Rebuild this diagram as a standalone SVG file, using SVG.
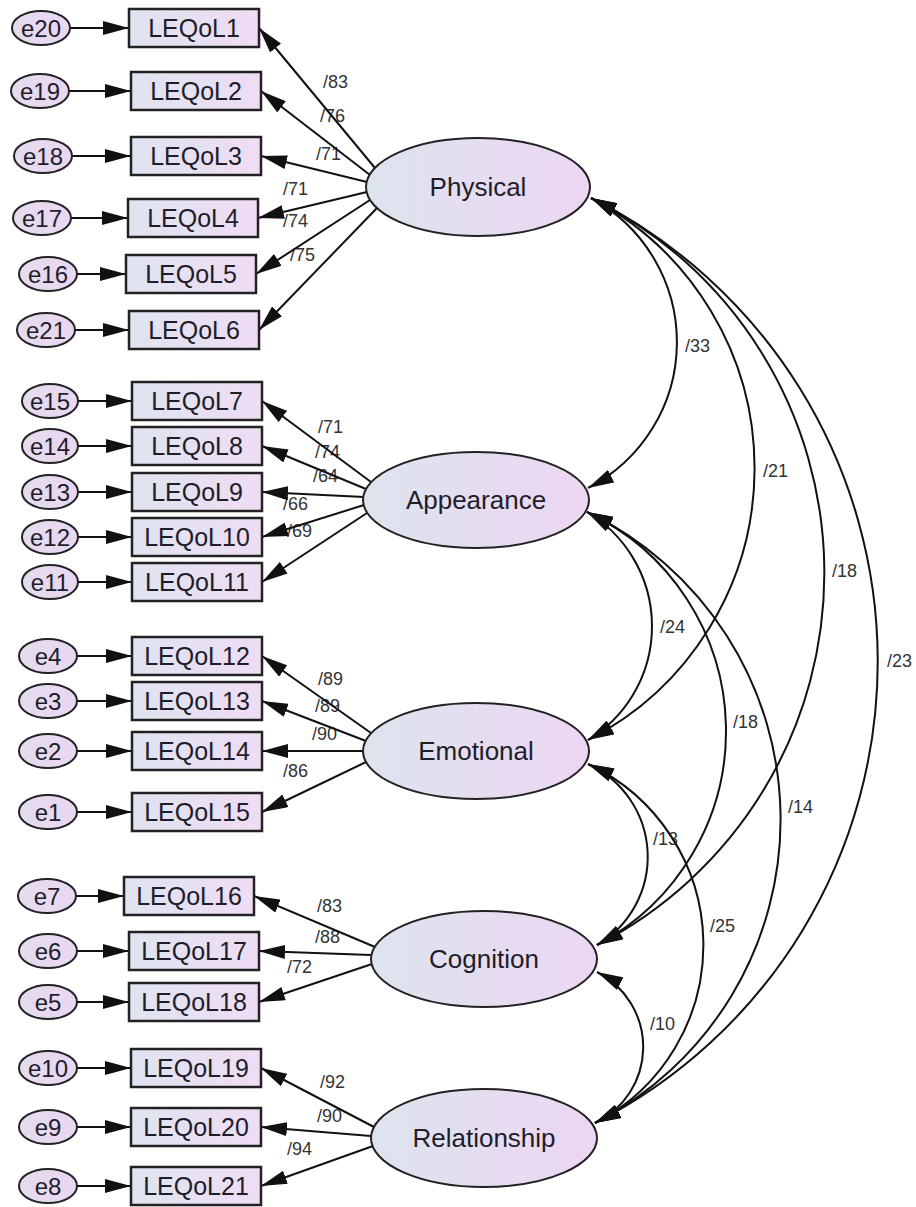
<svg xmlns="http://www.w3.org/2000/svg" width="916" height="1207" viewBox="0 0 916 1207">
<style>
.bx{stroke:#222;stroke-width:2.5;fill:url(#gBox)}
.lt{stroke:#222;stroke-width:2;fill:url(#gLat)}
.er{stroke:#222;stroke-width:2;fill:url(#gErr)}
.t{font-family:"Liberation Sans",Arial,sans-serif;fill:#1e1e2a;text-anchor:middle}
.tb{font-size:25px}
.tl{font-size:26px}
.te{font-size:24px}
.lb{font-family:"Liberation Sans",Arial,sans-serif;font-size:18px;fill:#333}
.ln{stroke:#111;stroke-width:2;fill:none;marker-end:url(#ah)}
.cv{stroke:#111;stroke-width:2;fill:none;marker-start:url(#ah);marker-end:url(#ah)}
</style>
<defs>
<linearGradient id="gBox" x1="0" y1="0" x2="1" y2="0"><stop offset="0" stop-color="#dfe4f0"/><stop offset="1" stop-color="#efdcf4"/></linearGradient>
<linearGradient id="gLat" x1="0" y1="0" x2="1" y2="0"><stop offset="0" stop-color="#dde4ee"/><stop offset="1" stop-color="#edd6f3"/></linearGradient>
<linearGradient id="gErr" x1="0" y1="0" x2="1" y2="0"><stop offset="0" stop-color="#e4dcef"/><stop offset="1" stop-color="#ead6f1"/></linearGradient>
<marker id="ah" viewBox="0 0 26 14" refX="26" refY="7" markerWidth="26" markerHeight="14" markerUnits="userSpaceOnUse" orient="auto-start-reverse"><path d="M0,0 L26,7 L0,14 z" fill="#111"/></marker>
</defs>
<rect width="916" height="1207" fill="#fff"/>
<g id="labels">
<text class="lb" x="323" y="88">/83</text>
<text class="lb" x="320" y="122">/76</text>
<text class="lb" x="316" y="160">/71</text>
<text class="lb" x="283" y="195">/71</text>
<text class="lb" x="283" y="227">/74</text>
<text class="lb" x="290" y="261">/75</text>
<text class="lb" x="318" y="433">/71</text>
<text class="lb" x="315" y="458">/74</text>
<text class="lb" x="313" y="482">/64</text>
<text class="lb" x="283" y="510">/66</text>
<text class="lb" x="287" y="537">/69</text>
<text class="lb" x="318" y="685">/89</text>
<text class="lb" x="315" y="712">/89</text>
<text class="lb" x="312" y="740">/90</text>
<text class="lb" x="283" y="777">/86</text>
<text class="lb" x="317" y="912">/83</text>
<text class="lb" x="315" y="943">/88</text>
<text class="lb" x="287" y="973">/72</text>
<text class="lb" x="320" y="1088">/92</text>
<text class="lb" x="317" y="1122">/90</text>
<text class="lb" x="287" y="1155">/94</text>
<text class="lb" x="685" y="352">/33</text>
<text class="lb" x="763" y="477">/21</text>
<text class="lb" x="832" y="577">/18</text>
<text class="lb" x="887" y="667">/23</text>
<text class="lb" x="660" y="633">/24</text>
<text class="lb" x="733" y="728">/18</text>
<text class="lb" x="788" y="813">/14</text>
<text class="lb" x="653" y="845">/13</text>
<text class="lb" x="710" y="932">/25</text>
<text class="lb" x="650" y="1030">/10</text>
</g>
<g id="connectors">
<line class="ln" x1="70" y1="28" x2="129" y2="28"/>
<line class="ln" x1="69" y1="91" x2="131" y2="91"/>
<line class="ln" x1="72" y1="156" x2="131" y2="156"/>
<line class="ln" x1="71" y1="218" x2="128" y2="218"/>
<line class="ln" x1="77" y1="274" x2="126" y2="274"/>
<line class="ln" x1="75" y1="330" x2="129" y2="330"/>
<line class="ln" x1="78" y1="401" x2="132" y2="401"/>
<line class="ln" x1="78" y1="446" x2="132" y2="446"/>
<line class="ln" x1="78" y1="492" x2="132" y2="492"/>
<line class="ln" x1="78" y1="537" x2="132" y2="537"/>
<line class="ln" x1="78" y1="582" x2="132" y2="582"/>
<line class="ln" x1="77" y1="656" x2="132" y2="656"/>
<line class="ln" x1="77" y1="701" x2="132" y2="701"/>
<line class="ln" x1="77" y1="751" x2="132" y2="751"/>
<line class="ln" x1="77" y1="812" x2="132" y2="812"/>
<line class="ln" x1="76" y1="896" x2="124" y2="896"/>
<line class="ln" x1="77" y1="951" x2="129" y2="951"/>
<line class="ln" x1="77" y1="1002" x2="129" y2="1002"/>
<line class="ln" x1="77" y1="1068" x2="131" y2="1068"/>
<line class="ln" x1="77" y1="1127" x2="131" y2="1127"/>
<line class="ln" x1="77" y1="1186" x2="131" y2="1186"/>
<line class="ln" x1="375" y1="168" x2="259" y2="28"/>
<line class="ln" x1="370" y1="175" x2="261" y2="91"/>
<line class="ln" x1="367" y1="182" x2="261" y2="156"/>
<line class="ln" x1="367" y1="192" x2="258" y2="218"/>
<line class="ln" x1="370" y1="200" x2="256" y2="274"/>
<line class="ln" x1="377" y1="208" x2="259" y2="330"/>
<line class="ln" x1="371" y1="482" x2="262" y2="401"/>
<line class="ln" x1="366" y1="489" x2="262" y2="446"/>
<line class="ln" x1="364" y1="497" x2="262" y2="492"/>
<line class="ln" x1="364" y1="505" x2="262" y2="537"/>
<line class="ln" x1="367" y1="513" x2="262" y2="582"/>
<line class="ln" x1="371" y1="733" x2="262" y2="656"/>
<line class="ln" x1="366" y1="741" x2="262" y2="701"/>
<line class="ln" x1="363" y1="751" x2="262" y2="751"/>
<line class="ln" x1="366" y1="762" x2="262" y2="812"/>
<line class="ln" x1="375" y1="947" x2="254" y2="896"/>
<line class="ln" x1="371" y1="955" x2="259" y2="951"/>
<line class="ln" x1="372" y1="964" x2="259" y2="1002"/>
<line class="ln" x1="374" y1="1127" x2="261" y2="1068"/>
<line class="ln" x1="371" y1="1136" x2="261" y2="1127"/>
<line class="ln" x1="373" y1="1146" x2="261" y2="1186"/>
<path class="cv" d="M591,198 A164,164 0 0 1 588,488"/>
<path class="cv" d="M591,198 A305,305 0 0 1 588,740"/>
<path class="cv" d="M591,198 A418,418 0 0 1 597,945"/>
<path class="cv" d="M591,198 A518,518 0 0 1 595,1123"/>
<path class="cv" d="M587,512 A133,133 0 0 1 588,740"/>
<path class="cv" d="M587,512 A242,242 0 0 1 597,945"/>
<path class="cv" d="M587,512 A341,341 0 0 1 595,1123"/>
<path class="cv" d="M588,764 A102,102 0 0 1 597,945"/>
<path class="cv" d="M588,764 A200,200 0 0 1 595,1123"/>
<path class="cv" d="M597,972 A84,84 0 0 1 595,1123"/>
</g>
<g id="Physical"><ellipse class="lt" cx="478" cy="187" rx="112" ry="49"/><text class="t tl" x="478" y="196">Physical</text></g>
<g id="Appearance"><ellipse class="lt" cx="476" cy="500" rx="113" ry="48"/><text class="t tl" x="476" y="509">Appearance</text></g>
<g id="Emotional"><ellipse class="lt" cx="476" cy="751" rx="113" ry="48"/><text class="t tl" x="476" y="760">Emotional</text></g>
<g id="Cognition"><ellipse class="lt" cx="484" cy="959" rx="113" ry="48"/><text class="t tl" x="484" y="968">Cognition</text></g>
<g id="Relationship"><ellipse class="lt" cx="484" cy="1138" rx="113" ry="49"/><text class="t tl" x="484" y="1147">Relationship</text></g>
<g id="LEQoL1"><rect class="bx" x="129" y="9" width="130" height="38"/><text class="t tb" x="194" y="37">LEQoL1</text></g>
<g id="LEQoL2"><rect class="bx" x="131" y="72" width="130" height="38"/><text class="t tb" x="196" y="100">LEQoL2</text></g>
<g id="LEQoL3"><rect class="bx" x="131" y="137" width="130" height="38"/><text class="t tb" x="196" y="165">LEQoL3</text></g>
<g id="LEQoL4"><rect class="bx" x="128" y="199" width="130" height="38"/><text class="t tb" x="193" y="227">LEQoL4</text></g>
<g id="LEQoL5"><rect class="bx" x="126" y="255" width="130" height="38"/><text class="t tb" x="191" y="283">LEQoL5</text></g>
<g id="LEQoL6"><rect class="bx" x="129" y="311" width="130" height="38"/><text class="t tb" x="194" y="339">LEQoL6</text></g>
<g id="LEQoL7"><rect class="bx" x="132" y="382" width="130" height="38"/><text class="t tb" x="197" y="410">LEQoL7</text></g>
<g id="LEQoL8"><rect class="bx" x="132" y="427" width="130" height="38"/><text class="t tb" x="197" y="455">LEQoL8</text></g>
<g id="LEQoL9"><rect class="bx" x="132" y="473" width="130" height="38"/><text class="t tb" x="197" y="501">LEQoL9</text></g>
<g id="LEQoL10"><rect class="bx" x="132" y="518" width="130" height="38"/><text class="t tb" x="197" y="546">LEQoL10</text></g>
<g id="LEQoL11"><rect class="bx" x="132" y="563" width="130" height="38"/><text class="t tb" x="197" y="591">LEQoL11</text></g>
<g id="LEQoL12"><rect class="bx" x="132" y="637" width="130" height="38"/><text class="t tb" x="197" y="665">LEQoL12</text></g>
<g id="LEQoL13"><rect class="bx" x="132" y="682" width="130" height="38"/><text class="t tb" x="197" y="710">LEQoL13</text></g>
<g id="LEQoL14"><rect class="bx" x="132" y="732" width="130" height="38"/><text class="t tb" x="197" y="760">LEQoL14</text></g>
<g id="LEQoL15"><rect class="bx" x="132" y="793" width="130" height="38"/><text class="t tb" x="197" y="821">LEQoL15</text></g>
<g id="LEQoL16"><rect class="bx" x="124" y="877" width="130" height="38"/><text class="t tb" x="189" y="905">LEQoL16</text></g>
<g id="LEQoL17"><rect class="bx" x="129" y="932" width="130" height="38"/><text class="t tb" x="194" y="960">LEQoL17</text></g>
<g id="LEQoL18"><rect class="bx" x="129" y="983" width="130" height="38"/><text class="t tb" x="194" y="1011">LEQoL18</text></g>
<g id="LEQoL19"><rect class="bx" x="131" y="1049" width="130" height="38"/><text class="t tb" x="196" y="1077">LEQoL19</text></g>
<g id="LEQoL20"><rect class="bx" x="131" y="1108" width="130" height="38"/><text class="t tb" x="196" y="1136">LEQoL20</text></g>
<g id="LEQoL21"><rect class="bx" x="131" y="1167" width="130" height="38"/><text class="t tb" x="196" y="1195">LEQoL21</text></g>
<g id="e20"><ellipse class="er" cx="41" cy="28" rx="29" ry="17"/><text class="t te" x="41" y="37">e20</text></g>
<g id="e19"><ellipse class="er" cx="40" cy="91" rx="29" ry="17"/><text class="t te" x="40" y="100">e19</text></g>
<g id="e18"><ellipse class="er" cx="43" cy="156" rx="29" ry="17"/><text class="t te" x="43" y="165">e18</text></g>
<g id="e17"><ellipse class="er" cx="42" cy="218" rx="29" ry="17"/><text class="t te" x="42" y="227">e17</text></g>
<g id="e16"><ellipse class="er" cx="48" cy="274" rx="29" ry="17"/><text class="t te" x="48" y="283">e16</text></g>
<g id="e21"><ellipse class="er" cx="46" cy="330" rx="29" ry="17"/><text class="t te" x="46" y="339">e21</text></g>
<g id="e15"><ellipse class="er" cx="50" cy="401" rx="28" ry="17"/><text class="t te" x="50" y="410">e15</text></g>
<g id="e14"><ellipse class="er" cx="50" cy="446" rx="28" ry="17"/><text class="t te" x="50" y="455">e14</text></g>
<g id="e13"><ellipse class="er" cx="50" cy="492" rx="28" ry="17"/><text class="t te" x="50" y="501">e13</text></g>
<g id="e12"><ellipse class="er" cx="50" cy="537" rx="28" ry="17"/><text class="t te" x="50" y="546">e12</text></g>
<g id="e11"><ellipse class="er" cx="50" cy="582" rx="28" ry="17"/><text class="t te" x="50" y="591">e11</text></g>
<g id="e4"><ellipse class="er" cx="48" cy="656" rx="29" ry="17"/><text class="t te" x="48" y="665">e4</text></g>
<g id="e3"><ellipse class="er" cx="48" cy="701" rx="29" ry="17"/><text class="t te" x="48" y="710">e3</text></g>
<g id="e2"><ellipse class="er" cx="48" cy="751" rx="29" ry="17"/><text class="t te" x="48" y="760">e2</text></g>
<g id="e1"><ellipse class="er" cx="48" cy="812" rx="29" ry="17"/><text class="t te" x="48" y="821">e1</text></g>
<g id="e7"><ellipse class="er" cx="47" cy="896" rx="29" ry="17"/><text class="t te" x="47" y="905">e7</text></g>
<g id="e6"><ellipse class="er" cx="48" cy="951" rx="29" ry="17"/><text class="t te" x="48" y="960">e6</text></g>
<g id="e5"><ellipse class="er" cx="48" cy="1002" rx="29" ry="17"/><text class="t te" x="48" y="1011">e5</text></g>
<g id="e10"><ellipse class="er" cx="48" cy="1068" rx="29" ry="17"/><text class="t te" x="48" y="1077">e10</text></g>
<g id="e9"><ellipse class="er" cx="48" cy="1127" rx="29" ry="17"/><text class="t te" x="48" y="1136">e9</text></g>
<g id="e8"><ellipse class="er" cx="48" cy="1186" rx="29" ry="17"/><text class="t te" x="48" y="1195">e8</text></g>
</svg>
